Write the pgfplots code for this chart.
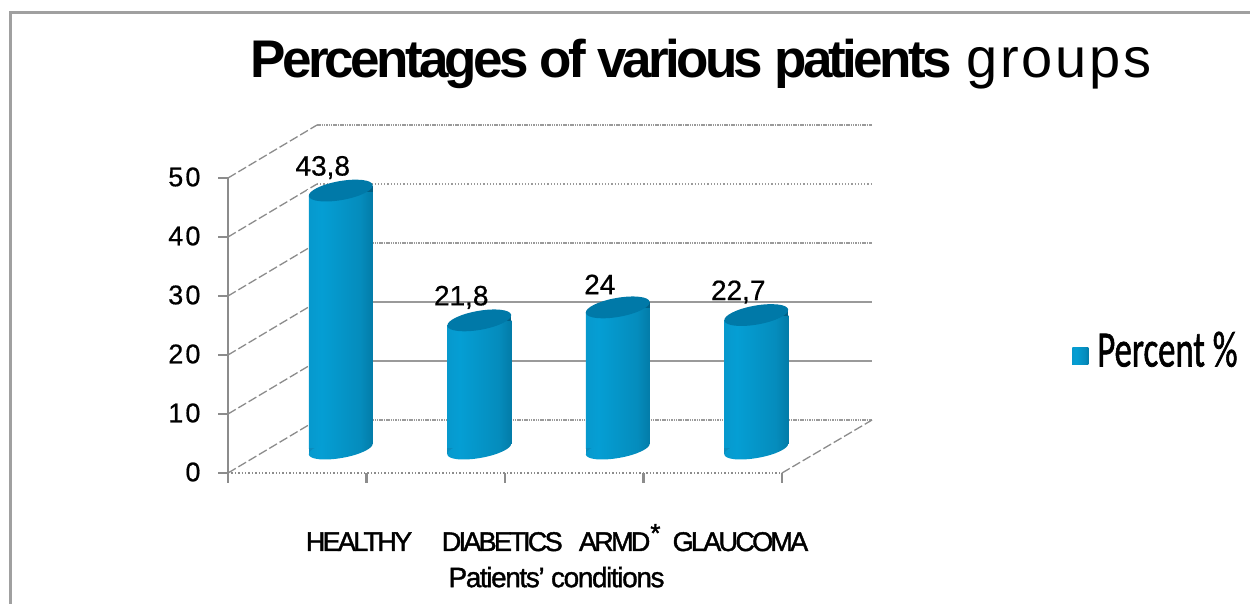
\documentclass[border=0pt]{standalone}
\usepackage{fontspec}
\setmainfont{Liberation Sans}
\newfontfamily\legfont{Carlito}
\usepackage{pgfplots}
\usepackage{pgfplotstable}
\pgfplotsset{compat=1.18}
\definecolor{axisgray}{HTML}{8C8C8C}
\definecolor{framegray}{HTML}{A0A0A0}
\definecolor{gridgray}{HTML}{9A9A9A}
\definecolor{cyltopc}{HTML}{0079A8}
\definecolor{cyledge}{HTML}{005F85}
\definecolor{cylleft}{HTML}{0A8CBD}
\definecolor{legblue}{HTML}{0096CF}
\pgfdeclarehorizontalshading{cyl}{100bp}{rgb(0bp)=(0.04,0.55,0.74); rgb(35bp)=(0.02,0.62,0.83); rgb(65bp)=(0.02,0.55,0.74); rgb(85bp)=(0.0,0.42,0.58); rgb(100bp)=(0.0,0.30,0.42)}
\pgfdeclareplotmark{cylbottom}{%
  \fill[white] (22pt,-3pt) rectangle (34pt,5pt);
  \fill[cylleft] (-32pt,-5pt) rectangle (-20pt,1pt);
  \shade[shading=cyl,draw=none] (0,0) ellipse[x radius=32.4pt, y radius=9pt, rotate=10];
}
\pgfdeclareplotmark{cyltop}{%
  \fill[white] (-34pt,-5pt) rectangle (-22pt,1pt);
  \fill[cyledge] (18pt,-1pt) rectangle (32pt,5pt);
  \fill[cyltopc,draw=none] (0,0) ellipse[x radius=32.4pt, y radius=9.5pt, rotate=10];
}
\pgfplotstableread{
x y label
0.5 43.8 {43,8}
1.5 21.8 {21,8}
2.5 24 {24}
3.5 22.7 {22,7}
}\valuestable
\begin{document}
\begin{tikzpicture}[x=1pt,y=1pt]
\path[use as bounding box] (0,0) rectangle (1250,604);
\draw[framegray,line width=3pt] (10.5,0) -- (10.5,591) -- (1250,591);
% back wall
\begin{axis}[name=back,at={(317pt,184pt)},anchor=south west,scale only axis,width=555pt,height=295pt,
  xmin=0,xmax=4,ymin=0,ymax=50,hide axis,clip=false]
\addplot[gridgray,line width=1.6pt,dash pattern=on 1.5pt off 0.8pt] coordinates {(0,50)(4,50)};
\addplot[gridgray,line width=1.2pt,dotted] coordinates {(0,40)(4,40)};
\addplot[gridgray,line width=1.6pt,dash pattern=on 1.5pt off 0.8pt] coordinates {(0,30)(4,30)};
\addplot[gridgray,line width=1.3pt] coordinates {(0,20)(4,20)};
\addplot[gridgray,line width=1.3pt] coordinates {(0,10)(4,10)};
\addplot[gridgray,line width=1.6pt,dash pattern=on 1.5pt off 0.8pt] coordinates {(0,0)(4,0)};
\end{axis}
% front plane with the scale
\begin{axis}[name=front,at={(228pt,131pt)},anchor=south west,scale only axis,width=554pt,height=295pt,
  xmin=0,xmax=4,ymin=0,ymax=50,clip=false,
  axis x line*=bottom,axis y line*=left,
  axis line style={-,draw=axisgray,line width=2.2pt},
  x axis line style={-,draw=axisgray,line width=1.4pt,dotted},
  tick style={draw=axisgray,line width=2.4pt},
  major tick length=10pt,
  ytick={0,10,20,30,40,50},
  xtick={0,1,2,3,4},xticklabels={},
  tick align=outside,
  y tick label style={font=\fontsize{27}{27}\addfontfeatures{LetterSpace=8,FakeBold=0.6}\selectfont,text=black,xshift=-14pt,yshift=1pt,/pgf/number format/assume math mode=true},
  extra x ticks={0.946,1.98,2.83,3.70},
  extra x tick labels={HEALTHY,DIABETICS,ARMD\textsuperscript{\fontsize{26}{26}\selectfont *},GLAUCOMA},
  extra x tick style={major tick length=0pt,x tick label style={font=\fontsize{27}{27}\addfontfeatures{LetterSpace=-10,FakeBold=1.5}\selectfont,text=black,anchor=base,yshift=-78pt}},
  title={{\bfseries\addfontfeatures{LetterSpace=-7}Percentages of various patients} {\fontsize{56}{56}\addfontfeatures{LetterSpace=5}\selectfont groups}},
  title style={font=\fontsize{53}{53}\selectfont,at={(rel axis cs:0.854,1.4)},anchor=center,inner sep=0pt,yshift=-10pt},
  xlabel={Patients' conditions},
  xlabel style={font=\fontsize{28}{28}\addfontfeatures{LetterSpace=-5,FakeBold=1.2}\selectfont,at={(rel axis cs:0.593,-0.353)},anchor=center,inner sep=0pt},
]
\addplot[axisgray,line width=1.3pt,dash pattern=on 9pt off 3pt] coordinates {(0,0)(0.6426,8.98)};
\addplot[axisgray,line width=1.3pt,dash pattern=on 9pt off 3pt] coordinates {(0,10)(0.6426,18.98)};
\addplot[axisgray,line width=1.3pt,dash pattern=on 9pt off 3pt] coordinates {(0,20)(0.6426,28.98)};
\addplot[axisgray,line width=1.3pt,dash pattern=on 9pt off 3pt] coordinates {(0,30)(0.6426,38.98)};
\addplot[axisgray,line width=1.3pt,dash pattern=on 9pt off 3pt] coordinates {(0,40)(0.6426,48.98)};
\addplot[axisgray,line width=1.3pt,dash pattern=on 9pt off 3pt] coordinates {(0,50)(0.6426,58.98)};
\addplot[axisgray,line width=1.3pt,dash pattern=on 9pt off 3pt] coordinates {(4,0)(4.65,8.98)};
\end{axis}
% cylinders
\begin{axis}[name=bars,at={(271.5pt,155pt)},anchor=south west,scale only axis,width=554pt,height=295pt,
  xmin=0,xmax=4,ymin=0,ymax=50,hide axis,clip=false,
  legend style={at={(axis description cs:1.4453,0.336)},anchor=west,draw=none,fill=none,inner sep=0pt,
    font=\fontsize{51}{51}\selectfont\legfont},
  legend cell align=left,
  legend image code/.code={\fill[legblue] (0pt,-15pt) rectangle (16pt,2pt);},
]
\addplot[ybar,bar width=64pt,draw=none,shading=cyl] coordinates {(0.5,43.8)};
\addlegendentry{\hspace{7pt}\scalebox{0.68}[1]{\addfontfeatures{FakeBold=1.5}Percent \%}}
\addplot[forget plot,ybar,bar width=64pt,draw=none,shading=cyl] coordinates {(1.5,21.8)};
\addplot[forget plot,ybar,bar width=64pt,draw=none,shading=cyl] coordinates {(2.5,24)};
\addplot[forget plot,ybar,bar width=64pt,draw=none,shading=cyl] coordinates {(3.5,22.7)};
\addplot[forget plot,only marks,mark=cylbottom,draw=none] table[x=x,y expr=0] {\valuestable};
\addplot[forget plot,only marks,mark=cyltop,draw=none,
  point meta=explicit symbolic,
  nodes near coords,
  nodes near coords style={font=\fontsize{28}{28}\addfontfeatures{FakeBold=0.6}\selectfont,text=black,anchor=center,xshift=-18pt,yshift=23pt,inner sep=0pt},
] table[x=x,y=y,meta=label] {\valuestable};
\end{axis}
\end{tikzpicture}
\end{document}
